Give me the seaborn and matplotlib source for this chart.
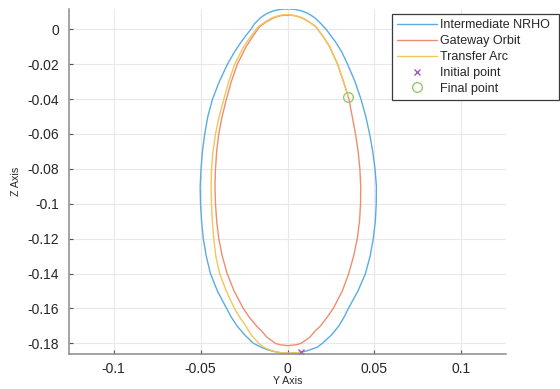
import matplotlib
matplotlib.use("Agg")
import matplotlib.pyplot as plt
import pandas as pd
import seaborn as sns

# Intermediate NRHO (Y, Z), closed loop starting at the apex and running counter-clockwise
nrho_y = [0.0000, -0.0041, -0.0082, -0.0114, -0.0140, -0.0158, -0.0189, -0.0210, -0.0238,
          -0.0265, -0.0305, -0.0345, -0.0392, -0.0431, -0.0458, -0.0476, -0.0489, -0.0497,
          -0.0502, -0.0500, -0.0494, -0.0484, -0.0467, -0.0443, -0.0403, -0.0350, -0.0323,
          -0.0290, -0.0248, -0.0195, -0.0152, -0.0120, -0.0085, -0.0045, -0.0015, 0.0010,
          0.0040, 0.0075, 0.0105, 0.0135, 0.0172, 0.0200, 0.0255, 0.0295, 0.0325, 0.0350,
          0.0405, 0.0448, 0.0475, 0.0493, 0.0505, 0.0510, 0.0511, 0.0503, 0.0490, 0.0472,
          0.0450, 0.0422, 0.0388, 0.0345, 0.0312, 0.0275, 0.0222, 0.0192, 0.0160, 0.0140,
          0.0114, 0.0082, 0.0042, 0.0000]
nrho_z = [0.0117, 0.0114, 0.0105, 0.0092, 0.0077, 0.0063, 0.0032, 0.0000, -0.0035,
          -0.0071, -0.0130, -0.0200, -0.0300, -0.0400, -0.0500, -0.0600, -0.0700, -0.0800,
          -0.0900, -0.1000, -0.1100, -0.1200, -0.1300, -0.1400, -0.1500, -0.1600, -0.1650,
          -0.1700, -0.1750, -0.1800, -0.1822, -0.1835, -0.1845, -0.1853, -0.1856, -0.1857,
          -0.1855, -0.1852, -0.1845, -0.1835, -0.1822, -0.1800, -0.1750, -0.1700, -0.1650, -0.1600,
          -0.1500, -0.1400, -0.1300, -0.1200, -0.1100, -0.1000, -0.0900, -0.0800, -0.0700, -0.0600,
          -0.0500, -0.0400, -0.0300, -0.0200, -0.0130, -0.0071, 0.0000, 0.0032, 0.0063, 0.0077,
          0.0092, 0.0105, 0.0114, 0.0117]

# Gateway orbit (Y, Z)
gateway_y = [0.0003, -0.0038, -0.0061, -0.0084, -0.0122, -0.0160, -0.0200, -0.0238, -0.0288,
             -0.0323, -0.0351, -0.0376, -0.0395, -0.0407, -0.0414, -0.0417, -0.0414, -0.0407,
             -0.0395, -0.0375, -0.0347, -0.0307, -0.0254, -0.0220, -0.0178, -0.0148, -0.0118,
             -0.0070, -0.0043, 0.0003, 0.0050, 0.0078, 0.0128, 0.0158, 0.0190, 0.0228, 0.0263,
             0.0315, 0.0352, 0.0380, 0.0401, 0.0414, 0.0420, 0.0421, 0.0416, 0.0406, 0.0391,
             0.0372, 0.0353, 0.0349, 0.0322, 0.0288, 0.0242, 0.0205, 0.0163, 0.0124, 0.0088,
             0.0064, 0.0040, 0.0003]
gateway_z = [0.0082, 0.0078, 0.0072, 0.0063, 0.0042, 0.0015, -0.0042, -0.0100, -0.0200,
             -0.0300, -0.0400, -0.0500, -0.0600, -0.0700, -0.0800, -0.0900, -0.1000, -0.1100,
             -0.1200, -0.1300, -0.1400, -0.1500, -0.1600, -0.1650, -0.1700, -0.1730, -0.1765,
             -0.1800, -0.1808, -0.1813, -0.1808, -0.1800, -0.1765, -0.1730, -0.1700, -0.1650, -0.1600,
             -0.1500, -0.1400, -0.1300, -0.1200, -0.1100, -0.1000, -0.0900, -0.0800, -0.0700, -0.0600,
             -0.0500, -0.0400, -0.0387, -0.0300, -0.0200, -0.0100, -0.0042, 0.0015, 0.0042, 0.0063,
             0.0072, 0.0078, 0.0082]

# Transfer arc, from the initial point on the NRHO to the final point on the Gateway orbit
arc_y = [0.0075, 0.0040, 0.0010, -0.0030, -0.0070, -0.0105, -0.0140, -0.0165, -0.0210,
         -0.0240, -0.0275, -0.0305, -0.0352, -0.0390, -0.0412, -0.0424, -0.0432, -0.0437,
         -0.0439, -0.0437, -0.0428, -0.0414, -0.0393, -0.0366, -0.0338, -0.0303, -0.0252,
         -0.0212, -0.0168, -0.0128, -0.0090, -0.0062, -0.0038, 0.0000, 0.0040, 0.0064,
         0.0088, 0.0124, 0.0163, 0.0205, 0.0242, 0.0288, 0.0322, 0.0349]
arc_z = [-0.1852, -0.1855, -0.1856, -0.1854, -0.1848, -0.1836, -0.1820, -0.1800, -0.1750,
         -0.1700, -0.1650, -0.1600, -0.1500, -0.1400, -0.1300, -0.1200, -0.1100, -0.1000,
         -0.0900, -0.0800, -0.0700, -0.0600, -0.0500, -0.0400, -0.0300, -0.0200, -0.0100,
         -0.0042, 0.0015, 0.0043, 0.0065, 0.0075, 0.0081, 0.0084, 0.0079, 0.0072,
         0.0063, 0.0042, 0.0015, -0.0042, -0.0100, -0.0200, -0.0300, -0.0387]

initial_y, initial_z = [0.0075], [-0.1852]
final_y, final_z = [0.0349], [-0.0387]

x_ticks = [-0.1, -0.05, 0, 0.05, 0.1]
x_tick_labels = ["-0.1", "-0.05", "0", "0.05", "0.1"]
z_ticks = [0, -0.02, -0.04, -0.06, -0.08, -0.1, -0.12, -0.14, -0.16, -0.18]
z_tick_labels = ["0", "-0.02", "-0.04", "-0.06", "-0.08", "-0.1", "-0.12", "-0.14", "-0.16", "-0.18"]

sns.set_theme(style="whitegrid")
plt.rcParams["font.family"] = ["Liberation Sans", "DejaVu Sans"]
plt.rcParams["axes.unicode_minus"] = False

c_nrho = "#5AACE2"
c_gateway = "#EE8E6E"
c_arc = "#F2C658"
c_init = "#9E5DBE"
c_final = "#98C86C"

fig = plt.figure(figsize=(5.6, 3.89), dpi=100)
ax = fig.add_axes([69 / 560, 1 - 354 / 389, 437 / 560, 345 / 389])
ax.set_facecolor("white")


def frame(y, z):
    return pd.DataFrame({"y": y, "z": z})


line_kw = dict(x="y", y="z", sort=False, estimator=None, linewidth=1.0, ax=ax)
sns.lineplot(data=frame(nrho_y, nrho_z), color=c_nrho, label="Intermediate NRHO", **line_kw)
sns.lineplot(data=frame(gateway_y, gateway_z), color=c_gateway, label="Gateway Orbit", **line_kw)
sns.lineplot(data=frame(arc_y, arc_z), color=c_arc, label="Transfer Arc", **line_kw)
sns.lineplot(x=initial_y, y=initial_z, estimator=None, marker="x", linestyle="none",
             color=c_init, markeredgecolor=c_init, markersize=5, markeredgewidth=1.0,
             label="Initial point", ax=ax)
sns.lineplot(x=final_y, y=final_z, estimator=None, marker="o", linestyle="none",
             color=c_final, markerfacecolor="none", markeredgecolor=c_final,
             markersize=7, markeredgewidth=1.0, label="Final point", ax=ax)

ax.set_xlim(-0.1256, 0.1256)
ax.set_ylim(-0.1861, 0.0116)
ax.set_xticks(x_ticks, x_tick_labels)
ax.set_yticks(z_ticks, z_tick_labels)

ax.grid(True, color="#E8E8E8", linewidth=0.8)
for side in ("top", "right"):
    ax.spines[side].set_visible(False)
for side in ("left", "bottom"):
    ax.spines[side].set_visible(True)
    ax.spines[side].set_color("#8A8A8A")
    ax.spines[side].set_linewidth(1.1)

ax.tick_params(axis="both", direction="in", length=3, width=0.8, color="#555555",
               labelsize=10, labelcolor="#262626")
ax.tick_params(axis="x", pad=6, bottom=True)
ax.tick_params(axis="y", pad=7, left=True)

ax.set_xlabel("Y Axis", fontsize=7.7, color="#262626", labelpad=0)
ax.set_ylabel("Z Axis", fontsize=7.7, color="#262626", labelpad=5)

leg = ax.legend(loc="upper left", bbox_to_anchor=(392 / 560, 1 - 14 / 389, 167 / 560, 0),
                bbox_transform=fig.transFigure, mode="expand", fontsize=9, frameon=True,
                fancybox=False, framealpha=1, edgecolor="#3A3A3A",
                handlelength=3.2, handletextpad=0.22, labelspacing=0.31,
                borderpad=0.42, borderaxespad=0)
leg.get_frame().set_linewidth(0.9)
for t in leg.get_texts():
    t.set_color("#262626")

fig.savefig("out.png", dpi=100, facecolor="white")
